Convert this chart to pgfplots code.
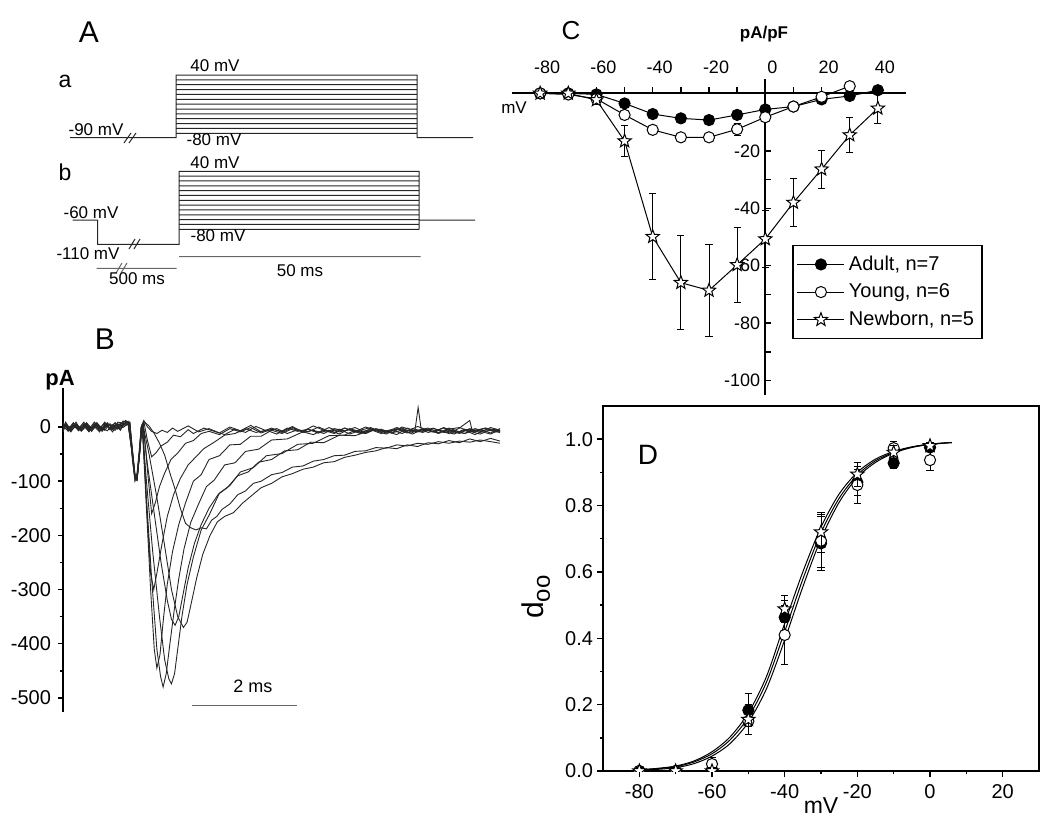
\documentclass[border=0pt]{standalone}
\usepackage{fontspec}
\setmainfont{Liberation Sans}
\usepackage{pgfplots}
\usepackage{pgfplotstable}
\pgfplotsset{compat=1.18}

\pgfdeclareplotmark{pstar}{%
  \pgfpathmoveto{\pgfpointpolar{90}{\pgfplotmarksize}}%
  \pgfpathlineto{\pgfpointpolar{126}{0.42*\pgfplotmarksize}}%
  \pgfpathlineto{\pgfpointpolar{162}{\pgfplotmarksize}}%
  \pgfpathlineto{\pgfpointpolar{198}{0.42*\pgfplotmarksize}}%
  \pgfpathlineto{\pgfpointpolar{234}{\pgfplotmarksize}}%
  \pgfpathlineto{\pgfpointpolar{270}{0.42*\pgfplotmarksize}}%
  \pgfpathlineto{\pgfpointpolar{306}{\pgfplotmarksize}}%
  \pgfpathlineto{\pgfpointpolar{342}{0.42*\pgfplotmarksize}}%
  \pgfpathlineto{\pgfpointpolar{18}{\pgfplotmarksize}}%
  \pgfpathlineto{\pgfpointpolar{54}{0.42*\pgfplotmarksize}}%
  \pgfpathclose
  \pgfusepathqfillstroke
}

\pgfplotstableread{
x y e
-80 0 0.3
-70 0 0.3
-60 -0.35 0.5
-50 -3.5 0.8
-40 -7.2 0.8
-30 -8.7 1.0
-20 -9.3 1.0
-10 -7.5 1.0
0 -5.6 1.0
10 -4.6 0.8
20 -2.1 0.8
30 -0.9 0.6
40 1.1 0.6
}\Cadult

\pgfplotstableread{
x y e
-80 0 0.3
-70 -0.4 0.5
-60 -1.9 0.8
-50 -7.5 1.2
-40 -12.7 1.0
-30 -15.3 1.2
-20 -15.3 1.5
-10 -12.5 2.0
0 -8.3 1.5
10 -4.6 1.0
20 -1.2 1.0
30 2.5 0.5
}\Cyoung

\pgfplotstableread{
x y e
-80 0 0.5
-70 0 0.5
-60 -2.3 1.5
-50 -16.6 5.5
-40 -49.9 15
-30 -65.9 16.4
-20 -68.6 16
-10 -59.7 13
0 -50.7 10
10 -38 8.3
20 -26.4 6.6
30 -14.5 6
40 -5.2 5.2
}\Cnewborn

\pgfplotstableread{
x y e
-80 0.0 0.005
-70 0.0 0.005
-60 0.005 0.01
-50 0.183 0.05
-40 0.463 0.05
-30 0.686 0.08
-20 0.87 0.04
-10 0.928 0.015
0 0.975 0.01
}\Dadult

\pgfplotstableread{
x y e
-80 0.0 0.005
-70 0.0 0.005
-60 0.021 0.02
-50 0.150 0.04
-40 0.410 0.09
-30 0.694 0.08
-20 0.862 0.055
-10 0.973 0.02
0 0.937 0.03
}\Dyoung

\pgfplotstableread{
x y e
-80 0.0 0.01
-70 0.0 0.01
-60 0.0 0.01
-50 0.155 0.045
-40 0.488 0.04
-30 0.720 0.06
-20 0.894 0.035
-10 0.960 0.02
0 0.980 0.01
}\Dnewborn

\pgfplotsset{
  every axis/.append style={/pgf/number format/assume math mode=true},
  adultmk/.style={black, line width=0.5pt, mark=*, mark size=2.8pt, mark options={solid, fill=black, draw=black}},
  youngmk/.style={black, line width=0.5pt, mark=*, mark size=2.8pt, mark options={solid, fill=white, draw=black}},
  newbmk/.style={black, line width=0.5pt, mark=pstar, mark size=3.5pt, mark options={solid, fill=white, draw=black}},
  ebar/.style={error bars/.cd, y dir=both, y explicit, error bar style={line width=0.4pt, black}, error mark options={rotate=90, mark size=1.8pt, line width=0.4pt, black}},
  trace/.style={black!85, line width=0.45pt, mark=none},
}

\begin{document}
\begin{tikzpicture}
\useasboundingbox (0,0) rectangle (525pt,412.5pt);

% ---------- background frame in pixel coordinates (panel A, labels) ----------
\begin{axis}[at={(0pt,0pt)}, anchor=south west, scale only axis,
  width=525pt, height=412.5pt, xmin=0, xmax=1050, ymin=0, ymax=825,
  y dir=reverse, axis lines=none, clip=false]
% panel A, a
\addplot[black!85, line width=0.5pt, unbounded coords=jump] coordinates {
(70,137.7)(176,137.7)(176,75)(417,75)(417,137.7)(473,137.7)(0,nan)
(176,79.86)(417,79.86)(0,nan)
(176,84.72)(417,84.72)(0,nan)
(176,89.58)(417,89.58)(0,nan)
(176,94.44)(417,94.44)(0,nan)
(176,99.30)(417,99.30)(0,nan)
(176,104.16)(417,104.16)(0,nan)
(176,109.02)(417,109.02)(0,nan)
(176,113.88)(417,113.88)(0,nan)
(176,118.74)(417,118.74)(0,nan)
(176,123.60)(417,123.60)(0,nan)
(176,128.46)(417,128.46)(0,nan)
(176,133.32)(417,133.32)(0,nan)
(124,143)(131,133)(0,nan)
(129,143)(136,133)
};
% panel A, b
\addplot[black!85, line width=0.5pt, unbounded coords=jump] coordinates {
(72.7,220)(97.7,220)(97.7,244.3)(179,244.3)(179,171.3)(419,171.3)(419,229.3)(0,nan)
(419,220)(475,220)(0,nan)
(179,176.13)(419,176.13)(0,nan)
(179,180.96)(419,180.96)(0,nan)
(179,185.79)(419,185.79)(0,nan)
(179,190.62)(419,190.62)(0,nan)
(179,195.45)(419,195.45)(0,nan)
(179,200.28)(419,200.28)(0,nan)
(179,205.11)(419,205.11)(0,nan)
(179,209.94)(419,209.94)(0,nan)
(179,214.77)(419,214.77)(0,nan)
(179,219.60)(419,219.60)(0,nan)
(179,224.43)(419,224.43)(0,nan)
(179,229.26)(419,229.26)(0,nan)
(129,249)(135,239)(0,nan)
(134,249)(140,239)
};
% time bars
\addplot[black!60, line width=0.5pt, unbounded coords=jump] coordinates {
(96.7,268.3)(176.7,268.3)(0,nan)
(116,273)(122,263)(0,nan)
(121,273)(127,263)(0,nan)
(179,256.7)(420.7,256.7)
};
\node[font=\fontsize{15}{18}\selectfont] at (axis cs:89,32) {A};
\node[font=\fontsize{11.5}{14}\selectfont] at (axis cs:65,81) {a};
\node[font=\fontsize{11.5}{14}\selectfont] at (axis cs:65,172) {b};
\node[font=\fontsize{8.5}{10}\selectfont] at (axis cs:96,130) {-90 mV};
\node[font=\fontsize{8.5}{10}\selectfont] at (axis cs:215,66) {40 mV};
\node[font=\fontsize{8.5}{10}\selectfont] at (axis cs:214,140) {-80 mV};
\node[font=\fontsize{8.5}{10}\selectfont] at (axis cs:215,163) {40 mV};
\node[font=\fontsize{8.5}{10}\selectfont] at (axis cs:91,213) {-60 mV};
\node[font=\fontsize{8.5}{10}\selectfont] at (axis cs:88,254) {-110 mV};
\node[font=\fontsize{8.5}{10}\selectfont] at (axis cs:218,236) {-80 mV};
\node[font=\fontsize{8.5}{10}\selectfont] at (axis cs:137,279) {500 ms};
\node[font=\fontsize{8.5}{10}\selectfont] at (axis cs:300,271) {50 ms};
% panel B labels
\node[font=\fontsize{15}{18}\selectfont] at (axis cs:105,339) {B};
\node[font=\bfseries\fontsize{11}{13}\selectfont] at (axis cs:60,380) {pA};
\node[font=\fontsize{9}{11}\selectfont] at (axis cs:253,686) {2 ms};
% panel C labels
\node[font=\fontsize{13}{16}\selectfont] at (axis cs:571,31) {C};
\node[font=\bfseries\fontsize{8.5}{10}\selectfont] at (axis cs:764,34) {pA/pF};
\node[font=\fontsize{8.5}{10}\selectfont] at (axis cs:514,108) {mV};
% panel D labels
\node[font=\fontsize{14}{17}\selectfont] at (axis cs:648,455) {D};
\node[font=\fontsize{11.5}{14}\selectfont] at (axis cs:821,806) {mV};
\node[rotate=90, font=\fontsize{15}{18}\selectfont] at (axis cs:536,597) {d\raisebox{-3pt}{\fontsize{12}{14}\selectfont oo}};
\end{axis}

% ---------- panel B: current traces ----------
\begin{axis}[at={(31.5pt,56.5pt)}, anchor=south west, scale only axis,
  width=218.5pt, height=162pt, xmin=0, xmax=8.38, ymin=-526, ymax=72,
  axis x line=none, axis y line*=left, clip=false,
  axis line style={line width=0.9pt},
  ytick={-500,-400,-300,-200,-100,0}, minor y tick num=1,
  tick align=outside, major tick length=2.5pt, minor tick length=1.6pt,
  every tick/.style={black, line width=0.7pt},
  tick label style={font=\fontsize{10}{12}\selectfont}]
\addplot[trace] coordinates {(0,5)(0.1,-4)(0.2,8)(0.3,-6)(0.4,3)(0.5,-8)(0.6,6)(0.7,-3)(0.8,7)(0.9,-5)(1.0,4)(1.1,-2)(1.2,8)(1.28,8)(1.33,-40)(1.38,-88)(1.42,-92)(1.47,-45)(1.52,5)(1.55,12)(1.62,0)(1.7,-8)(1.8,-12)(1.9,-6)(2.0,-10)(2.1,-2)(2.2,-8)(2.4,2)(2.6,-9)(2.8,-3)(3.0,-11)(3.2,0)(3.4,-7)(3.6,3)(3.8,-9)(4.0,-2)(4.2,-10)(4.4,-1)(4.6,-8)(4.8,2)(5.0,-6)(5.2,-12)(5.4,-2)(5.6,-9)(5.8,0)(6.0,-7)(6.2,-13)(6.4,-3)(6.6,-8)(6.8,1)(7.0,-6)(7.2,-11)(7.4,-2)(7.6,-9)(7.8,-4)(8.0,-10)(8.2,-1)(8.38,-6)};
\addplot[trace] coordinates {(0,-6)(0.05,3)(0.15,-9)(0.25,5)(0.35,-2)(0.45,7)(0.55,-7)(0.65,4)(0.75,-5)(0.85,8)(0.95,-3)(1.05,6)(1.15,-1)(1.25,6)(1.33,-50)(1.38,-95)(1.42,-98)(1.47,-50)(1.52,2)(1.55,10)(1.62,-25)(1.7,-55)(1.78,-48)(1.88,-35)(2.0,-28)(2.12,-15)(2.25,-18)(2.4,-5)(2.5,-12)(2.7,-2)(2.9,-8)(3.1,-14)(3.3,-4)(3.5,-10)(3.7,1)(3.9,-7)(4.1,-3)(4.3,-12)(4.5,-5)(4.7,-9)(4.9,0)(5.1,-8)(5.3,-4)(5.5,-13)(5.7,-6)(5.9,-1)(6.1,-9)(6.3,-5)(6.5,-12)(6.7,-3)(6.9,-8)(7.1,-2)(7.3,-10)(7.5,-6)(7.7,-12)(7.9,-3)(8.1,-8)(8.3,-4)(8.38,-9)};
\addplot[trace] coordinates {(0,2)(0.1,-8)(0.2,4)(0.3,-3)(0.4,9)(0.5,-5)(0.6,1)(0.7,-9)(0.8,5)(0.9,-2)(1.0,7)(1.1,-6)(1.2,10)(1.28,9)(1.33,-45)(1.38,-92)(1.42,-96)(1.47,-48)(1.51,3)(1.54,8)(1.62,-80)(1.7,-160)(1.77,-140)(1.85,-110)(1.95,-85)(2.07,-60)(2.2,-48)(2.35,-30)(2.5,-25)(2.65,-12)(2.8,-8)(3.0,-14)(3.2,-3)(3.4,-9)(3.6,-1)(3.8,-11)(4.0,-4)(4.2,-8)(4.4,1)(4.6,-10)(4.8,-6)(5.0,-12)(5.2,-3)(5.4,-7)(5.6,-1)(5.8,-10)(6.0,-4)(6.2,-8)(6.4,-14)(6.6,-2)(6.8,-9)(7.0,-5)(7.2,-12)(7.4,-4)(7.6,-1)(7.8,-8)(8.0,-13)(8.2,-5)(8.38,-10)};
\addplot[trace] coordinates {(0,-3)(0.05,6)(0.15,-5)(0.25,9)(0.35,-8)(0.45,2)(0.55,-4)(0.65,7)(0.75,-6)(0.85,3)(0.95,-9)(1.05,5)(1.15,2)(1.25,10)(1.33,-55)(1.38,-100)(1.42,-90)(1.47,-40)(1.5,0)(1.53,5)(1.6,-140)(1.68,-270)(1.74,-300)(1.8,-270)(1.9,-215)(2.0,-165)(2.12,-125)(2.25,-95)(2.4,-70)(2.55,-55)(2.7,-40)(2.9,-28)(3.1,-15)(3.3,-12)(3.5,-3)(3.7,-10)(3.9,-6)(4.1,-13)(4.3,-2)(4.5,-8)(4.7,-4)(4.9,-11)(5.1,-1)(5.3,-9)(5.5,-5)(5.7,-12)(5.9,-3)(6.1,-7)(6.3,-11)(6.5,0)(6.7,-6)(6.9,-10)(7.1,-3)(7.3,-8)(7.5,-13)(7.7,-4)(7.9,-9)(8.1,-2)(8.38,-7)};
\addplot[trace] coordinates {(0,7)(0.1,-2)(0.2,3)(0.3,-7)(0.4,5)(0.5,-4)(0.6,9)(0.7,-1)(0.8,-6)(0.9,6)(1.0,-2)(1.1,4)(1.2,12)(1.28,7)(1.33,-60)(1.38,-97)(1.42,-85)(1.47,-35)(1.5,0)(1.52,3)(1.6,-150)(1.68,-300)(1.75,-410)(1.8,-445)(1.86,-420)(1.93,-350)(2.0,-290)(2.1,-230)(2.22,-180)(2.35,-140)(2.5,-100)(2.65,-88)(2.8,-60)(3.0,-53)(3.2,-33)(3.4,-32)(3.6,-17)(3.8,-17)(4.0,-6)(4.2,-12)(4.4,-3)(4.6,-9)(4.8,-14)(5.0,-5)(5.2,-10)(5.4,-2)(5.6,-8)(5.8,-12)(6.0,-4)(6.2,-9)(6.4,-1)(6.6,-7)(6.75,-6)(6.81,36)(6.87,-5)(7.0,-10)(7.2,-6)(7.4,-12)(7.6,-2)(7.8,12)(7.85,-8)(8.0,-5)(8.2,-11)(8.38,-3)};
\addplot[trace] coordinates {(0,-9)(0.05,4)(0.15,-1)(0.25,6)(0.35,-5)(0.45,8)(0.55,-3)(0.65,2)(0.75,-8)(0.85,5)(0.95,1)(1.05,-4)(1.15,6)(1.25,5)(1.33,-48)(1.38,-90)(1.42,-95)(1.47,-42)(1.5,-5)(1.52,0)(1.6,-130)(1.7,-280)(1.8,-410)(1.87,-460)(1.92,-480)(1.98,-455)(2.05,-400)(2.13,-340)(2.22,-280)(2.32,-225)(2.45,-176)(2.6,-142)(2.75,-110)(2.9,-98)(3.1,-70)(3.3,-66)(3.5,-45)(3.75,-41)(4.0,-24)(4.3,-22)(4.6,-9)(4.7,-4)(4.9,-11)(5.1,-6)(5.3,-13)(5.5,-3)(5.7,-9)(5.9,-5)(6.1,-12)(6.3,-7)(6.5,-2)(6.7,-10)(6.9,-4)(7.1,-9)(7.3,-1)(7.5,-8)(7.7,-12)(7.9,-6)(8.1,-2)(8.3,-9)(8.38,-6)};
\addplot[trace] coordinates {(0,1)(0.1,-6)(0.2,7)(0.3,-4)(0.4,2)(0.5,-9)(0.6,5)(0.7,-7)(0.8,3)(0.9,-1)(1.0,8)(1.1,-5)(1.2,9)(1.28,6)(1.33,-52)(1.38,-94)(1.42,-97)(1.47,-45)(1.5,-5)(1.52,0)(1.6,-100)(1.72,-230)(1.85,-350)(1.95,-430)(2.03,-465)(2.08,-474)(2.14,-455)(2.2,-410)(2.28,-350)(2.38,-290)(2.5,-240)(2.65,-190)(2.8,-163)(3.0,-122)(3.2,-108)(3.4,-83)(3.65,-75)(3.9,-53)(4.2,-49)(4.5,-32)(4.8,-30)(5.1,-16)(5.4,-15)(5.6,-6)(5.8,-12)(6.0,-3)(6.2,-9)(6.4,-4)(6.6,-11)(6.8,-6)(7.0,-2)(7.2,-10)(7.4,-5)(7.6,-12)(7.8,-3)(8.0,-8)(8.2,-13)(8.38,-5)};
\addplot[trace] coordinates {(0,-4)(0.05,9)(0.15,-6)(0.25,2)(0.35,-3)(0.45,5)(0.55,-8)(0.65,6)(0.75,-2)(0.85,-7)(0.95,4)(1.05,-3)(1.15,11)(1.25,8)(1.33,-42)(1.38,-88)(1.42,-93)(1.47,-46)(1.5,0)(1.53,5)(1.65,-50)(1.8,-130)(1.95,-220)(2.08,-300)(2.2,-350)(2.31,-370)(2.38,-360)(2.46,-325)(2.56,-280)(2.68,-235)(2.82,-200)(2.96,-175)(3.1,-165)(3.27,-158)(3.45,-140)(3.6,-128)(3.8,-112)(4.0,-104)(4.2,-92)(4.4,-86)(4.6,-78)(4.8,-74)(5.0,-66)(5.2,-64)(5.4,-56)(5.6,-52)(5.8,-47)(6.0,-44)(6.2,-38)(6.4,-40)(6.6,-33)(6.8,-36)(7.0,-29)(7.2,-31)(7.4,-25)(7.6,-29)(7.8,-22)(8.0,-27)(8.2,-21)(8.38,-26)};
\addplot[trace] coordinates {(0,8)(0.1,-5)(0.2,2)(0.3,-2)(0.4,6)(0.5,-6)(0.6,3)(0.7,-4)(0.8,9)(0.9,-3)(1.0,-6)(1.1,7)(1.2,3)(1.28,9)(1.33,-46)(1.38,-91)(1.42,-94)(1.47,-44)(1.5,-2)(1.53,4)(1.62,-70)(1.75,-160)(1.88,-250)(2.0,-320)(2.08,-355)(2.15,-366)(2.22,-350)(2.3,-310)(2.4,-260)(2.52,-215)(2.65,-180)(2.8,-150)(2.98,-124)(3.15,-112)(3.35,-90)(3.55,-83)(3.75,-65)(4.0,-60)(4.25,-44)(4.5,-42)(4.75,-28)(5.0,-29)(5.3,-15)(5.6,-16)(5.9,-6)(6.1,-4)(6.3,-11)(6.5,-6)(6.7,-13)(6.9,-4)(7.1,-9)(7.3,-2)(7.5,-11)(7.7,-6)(7.9,-14)(8.1,-5)(8.38,-10)};
\addplot[trace] coordinates {(0,-2)(0.05,5)(0.15,-8)(0.25,3)(0.35,-7)(0.45,4)(0.55,-1)(0.65,8)(0.75,-4)(0.85,2)(0.95,-5)(1.05,9)(1.15,7)(1.25,4)(1.33,-50)(1.38,-96)(1.42,-99)(1.47,-47)(1.51,3)(1.55,10)(1.65,2)(1.75,-12)(1.85,-30)(1.95,-52)(2.05,-85)(2.15,-115)(2.25,-150)(2.35,-178)(2.45,-186)(2.55,-190)(2.65,-186)(2.75,-188)(2.85,-172)(2.95,-165)(3.05,-152)(3.2,-142)(3.35,-125)(3.5,-118)(3.65,-104)(3.8,-100)(4.0,-88)(4.2,-84)(4.4,-74)(4.6,-72)(4.8,-63)(5.0,-60)(5.2,-53)(5.4,-52)(5.6,-45)(5.8,-44)(6.0,-38)(6.2,-39)(6.4,-33)(6.6,-35)(6.8,-30)(7.0,-32)(7.2,-27)(7.4,-30)(7.6,-26)(7.8,-28)(8.0,-24)(8.2,-27)(8.38,-30)};
% 2 ms scale bar
\addplot[black!60, line width=0.6pt] coordinates {(2.48,-513.6)(4.48,-513.6)};
\end{axis}

% ---------- panel C: I-V ----------
\begin{axis}[at={(256pt,215pt)}, anchor=south west, scale only axis,
  width=197pt, height=158pt, xmin=-90, xmax=50, ymin=-105, ymax=5,
  axis x line*=middle, axis y line*=middle, clip=false,
  hide obscured x ticks=false, hide obscured y ticks=false,
  axis line style={line width=0.9pt},
  xtick={-80,-60,-40,-20,0,20,40}, minor x tick num=1,
  ytick={-100,-80,-60,-40,-20}, minor y tick num=1,
  major tick length=3pt, minor tick length=3pt,
  every tick/.style={black, line width=0.7pt},
  tick label style={font=\fontsize{9}{11}\selectfont},
  x tick label style={anchor=south, yshift=6.5pt, xshift=3.5pt},
  y tick label style={xshift=1pt},
  legend style={at={(rel axis cs:0.711,0.475)}, anchor=north west,
    font=\fontsize{10}{12}\selectfont, draw=black, line width=0.8pt,
    inner xsep=2pt, inner ysep=3pt, row sep=1.2pt, cells={anchor=west}},
  legend image code/.code={\draw[mark repeat=2, mark phase=2, #1] plot coordinates {(0pt,0pt) (11.75pt,0pt) (23.5pt,0pt)};}]
\addplot[adultmk, ebar] table[x=x, y=y, y error=e] {\Cadult};
\addlegendentry{Adult, n=7}
\addplot[youngmk, ebar] table[x=x, y=y, y error=e] {\Cyoung};
\addlegendentry{Young, n=6}
\addplot[newbmk, ebar] table[x=x, y=y, y error=e] {\Cnewborn};
\addlegendentry{Newborn, n=5\hspace{16pt}}
\end{axis}

% ---------- panel D: activation curves ----------
\begin{axis}[at={(301.5pt,27pt)}, anchor=south west, scale only axis,
  width=218pt, height=182.5pt, xmin=-90, xmax=30, ymin=0, ymax=1.1,
  axis line style={line width=0.9pt}, clip marker paths=true,
  xtick={-80,-60,-40,-20,0,20}, minor x tick num=1,
  ytick={0,0.2,0.4,0.6,0.8,1.0}, minor y tick num=1,
  xtick pos=bottom, ytick pos=left, tick align=outside,
  major tick length=3pt, minor tick length=1.7pt,
  every tick/.style={black, line width=0.7pt},
  tick label style={font=\fontsize{10}{12}\selectfont},
  y tick label style={xshift=1.5pt, /pgf/number format/.cd, fixed, fixed zerofill, precision=1}]
\addplot[black, line width=0.5pt, smooth] coordinates {(-80,0.004)(-75,0.008)(-70,0.015)(-65,0.030)(-60,0.058)(-55,0.103)(-50,0.175)(-45,0.285)(-40,0.445)(-35,0.600)(-30,0.735)(-25,0.835)(-20,0.900)(-15,0.940)(-10,0.963)(-5,0.977)(0,0.985)(6,0.99)};
\addplot[black, line width=0.5pt, smooth] coordinates {(-80,0.003)(-75,0.007)(-70,0.013)(-65,0.027)(-60,0.052)(-55,0.094)(-50,0.162)(-45,0.268)(-40,0.420)(-35,0.578)(-30,0.718)(-25,0.822)(-20,0.892)(-15,0.935)(-10,0.960)(-5,0.976)(0,0.985)(6,0.99)};
\addplot[black, line width=0.5pt, smooth] coordinates {(-80,0.002)(-75,0.005)(-70,0.010)(-65,0.022)(-60,0.045)(-55,0.083)(-50,0.147)(-45,0.248)(-40,0.395)(-35,0.555)(-30,0.700)(-25,0.810)(-20,0.885)(-15,0.930)(-10,0.958)(-5,0.975)(0,0.984)(6,0.99)};
\addplot[adultmk, only marks, ebar] table[x=x, y=y, y error=e] {\Dadult};
\addplot[youngmk, only marks, ebar] table[x=x, y=y, y error=e] {\Dyoung};
\addplot[newbmk, only marks, ebar] table[x=x, y=y, y error=e] {\Dnewborn};
\end{axis}
\end{tikzpicture}
\end{document}
